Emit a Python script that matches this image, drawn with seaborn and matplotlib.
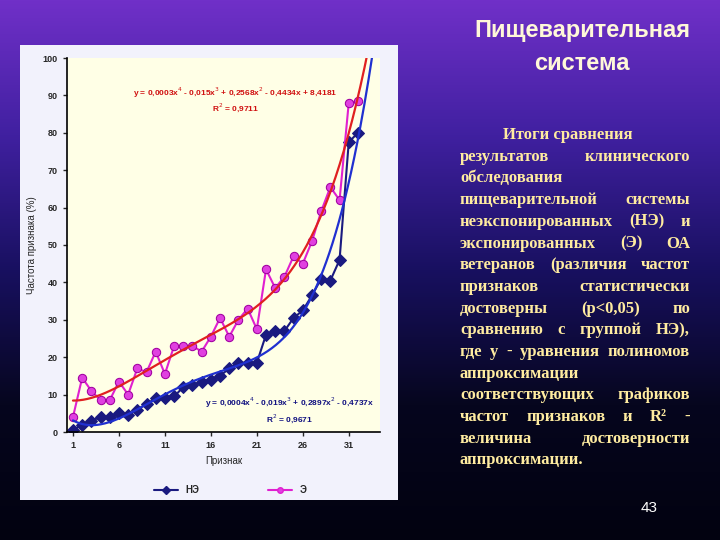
import numpy as np
import pandas as pd
import matplotlib
matplotlib.use("Agg")
import matplotlib.pyplot as plt
import seaborn as sns

features = list(range(1, 33))
ne_values = [0.5, 2, 3, 4, 4, 5, 4.5, 6, 7.5, 9, 9, 9.5, 12, 12.5, 13.5, 14,
             15, 17, 18.5, 18.5, 18.5, 26, 27, 27, 30.5, 32.5, 36.5, 41, 40.5, 46, 77.5, 80]
e_values = [4, 14.5, 11, 8.5, 8.5, 13.5, 10, 17, 16, 21.5, 15.5, 23, 23, 23, 21.5, 25.5,
            30.5, 25.5, 30, 33, 27.5, 43.5, 38.5, 41.5, 47, 45, 51, 59, 65.5, 62, 88, 88.5]
x_ticks = [1, 6, 11, 16, 21, 26, 31]
y_ticks = [0, 10, 20, 30, 40, 50, 60, 70, 80, 90, 100]
eq_e = "y = 0,0003x$^4$ - 0,015x$^3$ + 0,2568x$^2$ - 0,4434x + 8,4181"
r2_e = "R$^2$ = 0,9711"
eq_ne = "y = 0,0004x$^4$ - 0,019x$^3$ + 0,2897x$^2$ - 0,4737x"
r2_ne = "R$^2$ = 0,9671"
title_lines = ["Пищеварительная", "система"]
body_lines = [
    ("Итоги сравнения", "indent"),
    ("результатов клинического", "just"),
    ("обследования", "left"),
    ("пищеварительной системы", "just"),
    ("неэкспонированных (НЭ) и", "just"),
    ("экспонированных (Э) ОА", "just"),
    ("ветеранов (различия частот", "just"),
    ("признаков статистически", "just"),
    ("достоверны (p<0,05) по", "just"),
    ("сравнению с группой НЭ),", "just"),
    ("где y - уравнения полиномов", "just"),
    ("аппроксимации", "left"),
    ("соответствующих графиков", "just"),
    ("частот признаков и R² -", "just"),
    ("величина достоверности", "just"),
    ("аппроксимации.", "left"),
]

sns.set_style("white")
plt.rcParams['font.family'] = ['Liberation Sans', 'DejaVu Sans']

fig = plt.figure(figsize=(7.2, 5.4), dpi=100)
bg = fig.add_axes([0, 0, 1, 1], zorder=-10)
grad = np.linspace(0, 1, 256)[:, None]
cmap = matplotlib.colors.LinearSegmentedColormap.from_list(
    "bg", ["#7030c8", "#4020a0", "#181060", "#06061e", "#020210"])
bg.imshow(grad, aspect="auto", cmap=cmap, extent=[0, 1, 0, 1], origin="upper")
bg.set_axis_off()

box = matplotlib.patches.Rectangle((20/720, 1-500/540), 378/720, 455/540,
                                   transform=fig.transFigure, facecolor="#f2f2fc",
                                   edgecolor="none", zorder=-5)
fig.patches.append(box)

ax = fig.add_axes([67/720, 1-432/540, 313/720, 374/540])
ax.set_facecolor("#ffffe6")
df = pd.DataFrame({"Признак": features * 2,
                   "val": ne_values + e_values,
                   "grp": ["НЭ"] * len(features) + ["Э"] * len(features)})
sns.lineplot(data=df, x="Признак", y="val", hue="grp", style="grp",
             markers={"НЭ": "D", "Э": "o"}, dashes=False,
             palette={"НЭ": "#1a1a80", "Э": "#e020d0"}, ax=ax, legend=False,
             markersize=6, linewidth=1.5)
for line, mfc in zip(ax.lines, ["#1a1a80", "#e040e0"]):
    line.set_markerfacecolor(mfc)
    line.set_markeredgecolor("#1a1a80" if mfc == "#1a1a80" else "#a000a0")

xs = np.linspace(1, 34.5, 300)
p_e = np.polyfit(features, e_values, 4)
p_ne = np.polyfit(features, ne_values, 4)
sns.lineplot(x=xs, y=np.polyval(p_e, xs), color="#e02020", lw=1.6, ax=ax)
sns.lineplot(x=xs, y=np.polyval(p_ne, xs), color="#2030d0", lw=1.6, ax=ax)

ax.set_xlim(0.35, 34.4)
ax.set_ylim(0, 100)
ax.set_xticks(x_ticks)
ax.set_yticks(y_ticks)
ax.tick_params(labelsize=6.5, length=3, direction="out", bottom=True, left=True, width=1)
for lab in ax.get_xticklabels() + ax.get_yticklabels():
    lab.set_fontweight("bold")
for s in ["top", "right"]:
    ax.spines[s].set_visible(False)
for s in ["left", "bottom"]:
    ax.spines[s].set_color("black")
    ax.spines[s].set_linewidth(1.2)
ax.set_xlabel("Признак", fontsize=7)
ax.set_ylabel("Частота признака (%)", fontsize=7)
ax.text(0.537, 0.906, eq_e, transform=ax.transAxes, ha="center", va="center",
        color="#d01010", fontsize=6, fontweight="bold")
ax.text(0.537, 0.866, r2_e, transform=ax.transAxes, ha="center", va="center",
        color="#d01010", fontsize=6, fontweight="bold")
ax.text(0.712, 0.078, eq_ne, transform=ax.transAxes, ha="center", va="center",
        color="#101080", fontsize=6, fontweight="bold")
ax.text(0.712, 0.037, r2_ne, transform=ax.transAxes, ha="center", va="center",
        color="#101080", fontsize=6, fontweight="bold")

h1 = matplotlib.lines.Line2D([], [], color="#1a1a80", marker="D", markersize=4, lw=1.5)
h2 = matplotlib.lines.Line2D([], [], color="#e020d0", marker="o", markersize=4, lw=1.5,
                             markerfacecolor="#e040e0")
fig.legend([h1, h2], ["НЭ", "Э"], ncol=2, loc="center", bbox_to_anchor=(230/720, 1-490/540),
           frameon=False, columnspacing=7, handlelength=2.5,
           prop={"weight": "bold", "size": 7})

tcol = "#fff8d8"
fig.text(582/720, 1-30/540, title_lines[0], ha="center", va="center", color=tcol,
         fontsize=17, fontweight="bold")
fig.text(582/720, 1-63/540, title_lines[1], ha="center", va="center", color=tcol,
         fontsize=17, fontweight="bold")

bcol = "#ffeca0"
fp = dict(fontsize=12, fontweight="bold", family="Liberation Serif", color=bcol)
fig.canvas.draw()
r = fig.canvas.get_renderer()
x0, x1 = 460, 690
for i, (line, mode) in enumerate(body_lines):
    y = 1 - (135 + i * 21.7) / 540
    if mode != "just":
        xs0 = 503 if mode == "indent" else x0
        fig.text(xs0/720, y, line, ha="left", va="center", **fp)
        continue
    words = line.split(" ")
    objs = [fig.text(0, y, w, ha="left", va="center", **fp) for w in words]
    widths = [o.get_window_extent(r).width for o in objs]
    gap = (x1 - x0 - sum(widths)) / (len(words) - 1)
    cx = x0
    for o, w in zip(objs, widths):
        o.set_x(cx/720)
        cx += w + gap

fig.text(649/720, 1-508/540, "43", ha="center", va="center", color="white", fontsize=11)

fig.savefig("out.png", dpi=100)
